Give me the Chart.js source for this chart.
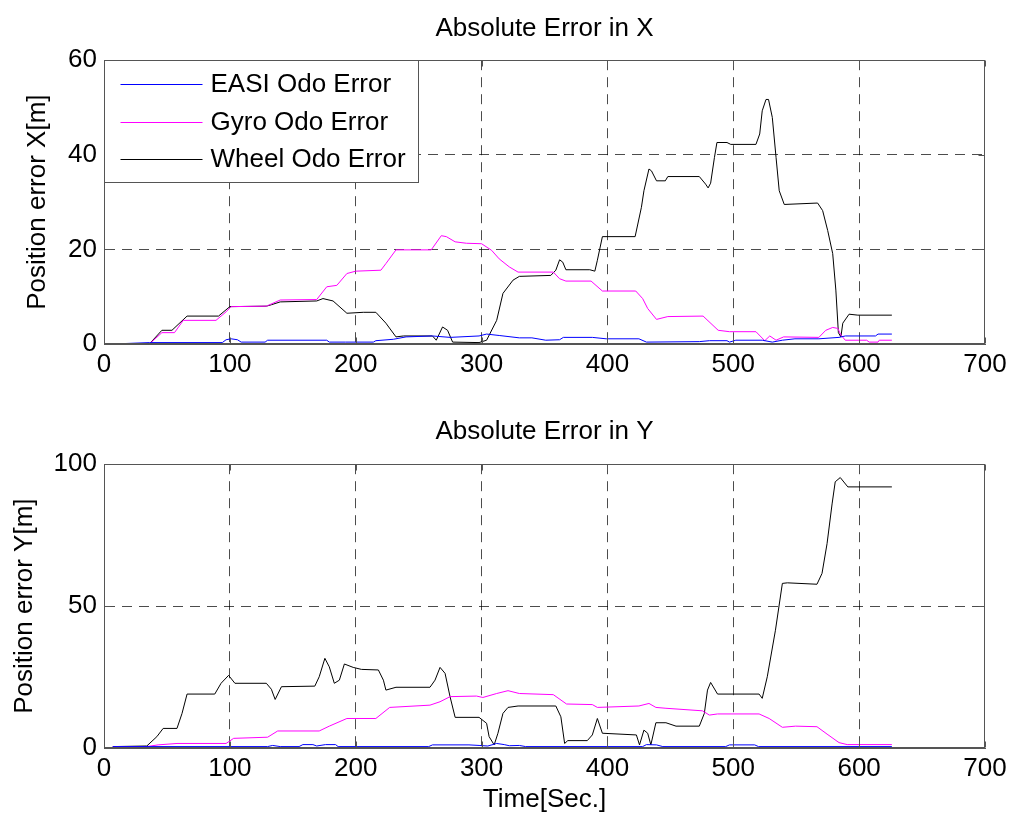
<!DOCTYPE html>
<html>
<head>
<meta charset="utf-8">
<script src="https://cdn.jsdelivr.net/npm/chart.js@4.4.0/dist/chart.umd.min.js"></script>
<style>
  html, body { margin: 0; padding: 0; background: #fff; }
  #wrap { position: relative; width: 1024px; height: 831px; }
  canvas { position: absolute; left: 0; }
  #cx { top: 0; }
  #cy { top: 400px; }
</style>
</head>
<body>
<div id="wrap">
  <canvas id="cx" width="1024" height="400"></canvas>
  <canvas id="cy" width="1024" height="431"></canvas>
</div>
<script>
// series labels / colours
const seriesNames = ['EASI Odo Error', 'Gyro Odo Error', 'Wheel Odo Error'];
const seriesColors = ['#0000ff', '#ff00ff', '#000000'];

// axis ticks
const timeTicks = [0, 100, 200, 300, 400, 500, 600, 700];
const errXTicks = [0, 20, 40, 60];
const errYTicks = [0, 50, 100];

// ---- Absolute error in X ----
const easiXT = [7, 36, 94, 97, 101, 106, 109, 128, 130, 177, 179, 192, 214, 216, 230, 240, 261, 275, 298, 304, 314, 330, 340, 351, 362, 365, 388, 399, 425, 431, 473, 481, 495, 497, 502, 523, 531, 539, 549, 568, 584, 589, 613, 615, 626];
const easiXV = [0, 0.3, 0.3, 0.9, 1.1, 0.9, 0.4, 0.4, 0.8, 0.8, 0.4, 0.4, 0.4, 0.7, 1.0, 1.5, 1.7, 1.4, 1.7, 2.1, 1.8, 1.3, 1.3, 0.8, 0.9, 1.4, 1.4, 1.1, 1.1, 0.4, 0.5, 0.7, 0.7, 0.4, 0.8, 0.8, 0.4, 0.8, 1.1, 1.1, 1.4, 1.7, 1.7, 2.1, 2.1];

const gyroXT = [7, 36, 46, 56, 63, 89, 97, 101, 129, 140, 169, 177, 185, 193, 200, 220, 224, 232, 260, 268, 272, 279, 288, 300, 308, 314, 322, 329, 357, 362, 367, 387, 396, 422.5, 428, 432, 439, 448, 476, 488, 497, 518, 525, 529, 534, 540, 568, 573.5, 579, 583, 585.5, 589, 606, 608, 615, 616, 626];
const gyroXV = [0, 0, 2.4, 2.4, 5, 5, 6.8, 7.9, 8, 9.3, 9.4, 12.1, 12.4, 14.9, 15.4, 15.6, 17, 19.9, 19.9, 22.9, 22.7, 21.6, 21.3, 21.2, 19.8, 18, 16.3, 15.2, 15.2, 13.8, 13.3, 13.3, 11.2, 11.2, 9.6, 7.5, 5.2, 5.8, 5.9, 2.9, 2.6, 2.6, 0.7, 1.7, 0.8, 1.5, 1.4, 2.9, 3.5, 3.3, 1.9, 0.8, 0.8, 0.4, 0.4, 0.8, 0.8];

const wheelXT = [7, 36, 46, 54, 66, 91, 100, 129, 133, 140, 169, 174, 182, 193, 206, 216, 224, 232, 238, 261, 264, 269, 273, 277, 298, 304, 312, 317, 325, 330, 355, 359, 362, 364.5, 367, 386, 390, 392, 396, 422, 427, 429, 433, 435, 439, 446, 448, 473, 478, 480, 482, 485, 487, 495, 498, 518, 521, 523, 526, 528, 531, 534, 536.5, 540.5, 567, 571, 575, 579, 581.5, 583.5, 585.5, 587, 592, 599, 626];
const wheelXV = [0, 0, 2.9, 2.9, 5.9, 5.9, 7.9, 8.0, 8.3, 8.9, 9.1, 9.6, 9.1, 6.5, 6.7, 6.7, 4.4, 1.5, 1.7, 1.7, 0.8, 3.6, 2.9, 0.4, 0.3, 0.8, 5, 10.7, 13.5, 14.3, 14.5, 15.6, 17.8, 17.3, 15.7, 15.7, 15.4, 17.7, 22.7, 22.7, 28.9, 32.4, 37, 36.6, 34.5, 34.5, 35.4, 35.4, 33.8, 33, 34, 39.4, 42.6, 42.6, 42.2, 42.2, 44.4, 49.3, 51.7, 51.7, 47.9, 39.4, 32.4, 29.5, 29.8, 28.2, 24, 19.1, 11.4, 2.4, 1.5, 4.4, 6.3, 6.1, 6.1];

// ---- Absolute error in Y ----
const easiYT = [7, 130, 134, 140, 155, 158, 166, 169, 176, 184, 186, 258, 261, 290, 298, 305, 312, 318, 322, 330, 335, 428, 431, 439, 444, 494, 497, 517, 520, 626];
const easiYV = [0.5, 0.5, 0.9, 0.5, 0.5, 1.2, 1.2, 0.7, 1.2, 1.2, 0.5, 0.5, 1.1, 1.1, 0.9, 0.7, 1.6, 1.2, 0.8, 0.9, 0.5, 0.5, 1.2, 1.1, 0.5, 0.5, 1.1, 1.1, 0.5, 0.5];

const gyroYT = [7, 34, 43, 58, 97, 103, 130, 138, 171, 179, 193, 216, 227, 259, 267, 275, 296, 301, 312, 321, 330, 357, 367.5, 388, 392, 425, 433, 438.5, 446.5, 475.5, 481, 487.5, 520.5, 528.5, 539, 549.5, 566.5, 574.5, 584, 590.5, 626];
const gyroYV = [0.5, 0.5, 1.1, 1.6, 1.6, 3.4, 3.8, 6, 6, 7.7, 10.4, 10.4, 14.3, 15.1, 16.3, 18.1, 18.3, 17.8, 19.2, 20.2, 19.2, 18.8, 15.5, 15.3, 14.3, 14.8, 15.7, 14.3, 14, 13.1, 11.6, 12, 12, 10.4, 7.3, 7.7, 7.5, 4.9, 1.9, 1.2, 1.2];

const wheelYT = [7, 34, 42, 47, 58, 62, 66, 88, 93, 99, 104, 129, 133, 136, 141, 167.5, 171, 175.5, 179, 183, 187, 191, 198, 204.5, 218, 222, 224, 232, 259, 263, 267, 271, 275, 279, 298, 304, 306, 310, 313, 317, 321, 329, 359, 363, 366, 368.5, 384, 388, 392, 396, 423, 425.5, 429, 432, 434.5, 438.5, 446.5, 454.5, 473, 477, 479.5, 482, 487.5, 520.5, 523, 527, 533.5, 539, 543, 566.5, 570.5, 574.5, 578.5, 581, 585, 591, 626];
const wheelYV = [0.5, 0.7, 4, 6.9, 6.9, 12.2, 19, 19, 22.8, 25.6, 22.8, 22.8, 20.7, 17.1, 21.6, 21.8, 25.1, 31.6, 28.6, 22.8, 23.9, 29.6, 28.4, 27.7, 27.5, 23.9, 20.4, 21.4, 21.4, 23.9, 28.4, 26.3, 18, 10.8, 10.8, 8.7, 4, 1.1, 5.2, 12.2, 14.3, 14.8, 14.8, 11, 1.6, 2.6, 2.6, 4.6, 10.4, 5.2, 4.6, 1.1, 6.3, 5.2, 1.1, 8.9, 8.9, 7.7, 7.7, 12.2, 20.4, 23.1, 19, 19, 17.5, 25.1, 41.5, 58, 58.2, 57.7, 61.5, 72, 86, 93.8, 95.3, 92, 92];

const FONT = { family: '"Liberation Sans", Arial, sans-serif', size: 26 };
const AXIS_GRAY = '#555';

const pts = (t, v) => t.map((x, i) => ({ x: x, y: v[i] }));

const makeDatasets = (lists) => lists.map((l, i) => ({
  label: seriesNames[i],
  data: pts(l[0], l[1]),
  borderColor: seriesColors[i],
  borderWidth: 1,
  pointRadius: 0,
  tension: 0,
  fill: false,
}));

// grid lines only inside the box, not on its edges
const innerGrid = (min, max) => (ctx) =>
  (ctx.tick && (ctx.tick.value === min || ctx.tick.value === max)) ? 'rgba(0,0,0,0)' : 'rgba(0,0,0,0.7)';

// box around plot + inward tick marks, like the original
const framePlugin = {
  id: 'frame',
  afterDraw(chart) {
    const { ctx, chartArea: a, scales } = chart;
    const L = Math.round(a.left) + 0.5, R = Math.round(a.right) - 0.5;
    const T = Math.round(a.top) + 0.5, B = Math.round(a.bottom) - 0.5;
    ctx.save();
    ctx.strokeStyle = AXIS_GRAY;
    ctx.lineWidth = 1;
    ctx.strokeRect(L, T, R - L, B - T);
    ctx.beginPath();
    scales.x.ticks.forEach((t) => {
      const px = Math.round(scales.x.getPixelForValue(t.value)) + 0.5;
      ctx.moveTo(px, B); ctx.lineTo(px, B - 6);
      ctx.moveTo(px, T); ctx.lineTo(px, T + 6);
    });
    scales.y.ticks.forEach((t) => {
      const py = Math.round(scales.y.getPixelForValue(t.value)) + 0.5;
      ctx.moveTo(L, py); ctx.lineTo(L + 6, py);
      ctx.moveTo(R, py); ctx.lineTo(R - 6, py);
    });
    ctx.stroke();
    ctx.restore();
  }
};

// legend box in the upper-left corner of the plot
const boxLegendPlugin = {
  id: 'boxLegend',
  afterDraw(chart) {
    const { ctx, chartArea: a } = chart;
    const x0 = Math.round(a.left) + 0.5, y0 = Math.round(a.top) + 0.5;
    const w = 314, h = 122;
    ctx.save();
    ctx.fillStyle = '#fff';
    ctx.fillRect(x0, y0, w, h);
    ctx.strokeStyle = AXIS_GRAY;
    ctx.lineWidth = 1;
    ctx.strokeRect(x0, y0, w, h);
    ctx.font = FONT.size + 'px ' + FONT.family;
    ctx.textBaseline = 'middle';
    ctx.textAlign = 'left';
    const rows = [23, 61, 98];
    chart.data.datasets.forEach((ds, i) => {
      const y = Math.round(y0 + rows[i]) + 0.5;
      ctx.strokeStyle = ds.borderColor;
      ctx.beginPath();
      ctx.moveTo(x0 + 16, y);
      ctx.lineTo(x0 + 98, y);
      ctx.stroke();
      ctx.fillStyle = '#000';
      ctx.fillText(ds.label, x0 + 106, y);
    });
    ctx.restore();
  }
};

function makeChart(canvasId, cfg) {
  const xTickVals = timeTicks;
  const yTickVals = cfg.yTicks;
  const yMax = yTickVals[yTickVals.length - 1];
  return new Chart(document.getElementById(canvasId), {
    type: 'line',
    data: { datasets: makeDatasets(cfg.lists) },
    options: {
      responsive: false,
      animation: false,
      devicePixelRatio: 1,
      layout: { padding: { left: 0, right: 39, top: 0, bottom: 0 } },
      plugins: {
        legend: { display: false },
        tooltip: { enabled: false },
        title: {
          display: true,
          fullSize: false,
          text: cfg.title,
          color: '#000',
          font: { family: FONT.family, size: FONT.size, weight: 'normal' },
          padding: cfg.titlePad,
        },
      },
      scales: {
        x: {
          type: 'linear',
          min: 0, max: 700,
          afterBuildTicks: (s) => { s.ticks = xTickVals.map((v) => ({ value: v })); },
          afterFit: (s) => { s.height = cfg.xHeight; },
          ticks: { color: '#000', font: FONT, padding: 5, maxRotation: 0 },
          grid: { color: innerGrid(0, 700), drawTicks: false, lineWidth: 1 },
          border: { color: AXIS_GRAY, dash: [10, 7] },
          title: {
            display: !!cfg.xTitle,
            text: cfg.xTitle || '',
            color: '#000',
            font: FONT,
            padding: { top: 0, bottom: 16 },
          },
        },
        y: {
          type: 'linear',
          min: 0, max: yMax,
          afterBuildTicks: (s) => { s.ticks = yTickVals.map((v) => ({ value: v })); },
          afterFit: (s) => { s.width = 104; },
          ticks: { color: '#000', font: FONT, padding: 7 },
          grid: { color: innerGrid(0, yMax), drawTicks: false, lineWidth: 1 },
          border: { color: AXIS_GRAY, dash: [10, 7] },
          title: {
            display: true,
            text: cfg.yTitle,
            color: '#000',
            font: FONT,
            padding: { top: cfg.yTitlePad, bottom: 0 },
          },
        },
      },
    },
    plugins: cfg.legend ? [framePlugin, boxLegendPlugin] : [framePlugin],
  });
}

makeChart('cx', {
  title: 'Absolute Error in X',
  titlePad: { top: 13, bottom: 16 },
  yTitle: 'Position error X[m]',
  yTitlePad: 22,
  yTicks: errXTicks,
  xHeight: 56,
  legend: true,
  lists: [[easiXT, easiXV], [gyroXT, gyroXV], [wheelXT, wheelXV]],
});

makeChart('cy', {
  title: 'Absolute Error in Y',
  titlePad: { top: 16, bottom: 17 },
  yTitle: 'Position error Y[m]',
  yTitlePad: 9,
  yTicks: errYTicks,
  xHeight: 83,
  xTitle: 'Time[Sec.]',
  legend: false,
  lists: [[easiYT, easiYV], [gyroYT, gyroYV], [wheelYT, wheelYV]],
});
</script>
</body>
</html>
